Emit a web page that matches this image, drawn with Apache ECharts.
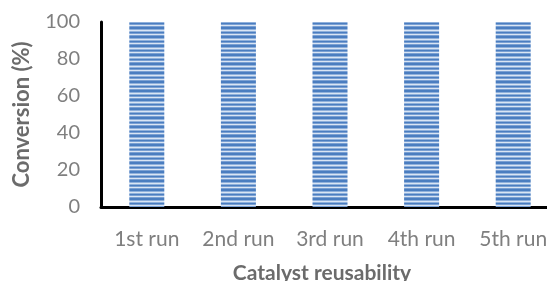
<!DOCTYPE html>
<html><head><meta charset="utf-8">
<script src="https://cdn.jsdelivr.net/npm/echarts@6/dist/echarts.min.js"></script>
<style>html,body{margin:0;padding:0;background:#fff}#c{width:547px;height:281px}</style>
</head><body><div id="c"></div>
<script>
var categories = ['1st run', '2nd run', '3rd run', '4th run', '5th run'];
var conversion = [100, 100, 100, 100, 100];
var yTicks = [0, 20, 40, 60, 80, 100];

function stripePattern() {
  var cv = document.createElement('canvas');
  cv.width = 8; cv.height = 9;
  var ctx = cv.getContext('2d');
  var rows = ['#4a7dc0','#4a7dc0','#8fb0db','#d9e5f4','#8fb0db','#4a7dc0','#7aa0d3','#d9e5f4','#7aa0d3'];
  for (var i = 0; i < rows.length; i++) { ctx.fillStyle = rows[i]; ctx.fillRect(0, i, 8, 1); }
  return cv;
}

var chart = echarts.init(document.getElementById('c'), null, {renderer: 'canvas'});
chart.setOption({
  animation: false,
  grid: {left: 101, top: 22, width: 458, height: 185, containLabel: false, outerBoundsMode: 'none'},
  xAxis: {
    type: 'category', data: categories,
    name: 'Catalyst reusability', nameLocation: 'middle', nameGap: 56,
    nameTextStyle: {fontFamily: 'Lato', fontWeight: 'bold', fontSize: 21, color: '#6b6b6b', padding: [0, 16, 0, 0]},
    axisLine: {lineStyle: {color: '#000', width: 3}},
    axisTick: {show: false},
    axisLabel: {fontFamily: 'Lato', fontSize: 21, color: '#7f7f7f', margin: 22, interval: 0, hideOverlap: false}
  },
  yAxis: {
    type: 'value', min: 0, max: 100, interval: 20,
    name: 'Conversion (%)', nameLocation: 'middle', nameGap: 68, nameRotate: 90,
    nameTextStyle: {fontFamily: 'Lato', fontWeight: 'bold', fontSize: 22, color: '#6b6b6b'},
    axisLine: {show: true, lineStyle: {color: '#000', width: 3}},
    axisTick: {show: false},
    splitLine: {show: false},
    axisLabel: {fontFamily: 'Lato', fontSize: 20, color: '#7f7f7f', margin: 21,
      formatter: function (v) { return yTicks.indexOf(v) >= 0 ? String(v) : ''; }}
  },
  series: [{
    type: 'bar', data: conversion, barWidth: 35,
    itemStyle: {color: {image: stripePattern(), repeat: 'repeat'}}
  }]
});
</script></body></html>
